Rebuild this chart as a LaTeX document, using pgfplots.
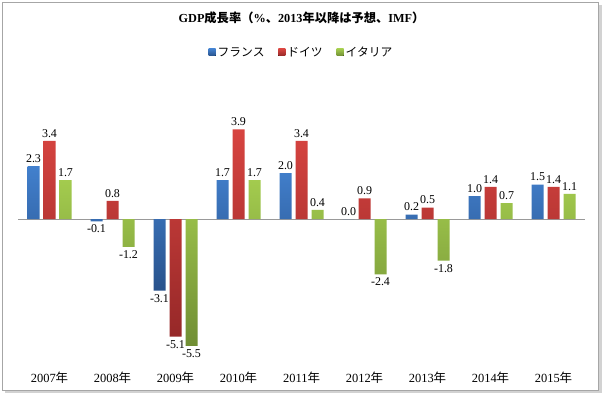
\documentclass[border=0pt]{standalone}
\usepackage{pgfplots}
\pgfplotsset{compat=1.18}
\usepackage{fontspec}
\setmainfont{Liberation Serif}
\newfontfamily\cjk{Noto Sans CJK JP}
\definecolor{bluetop}{RGB}{66,128,205}
\definecolor{bluebot}{RGB}{40,82,140}
\definecolor{redtop}{RGB}{215,68,64}
\definecolor{redbot}{RGB}{150,40,40}
\definecolor{greentop}{RGB}{163,203,78}
\definecolor{greenbot}{RGB}{112,142,52}
\pgfplotstableread{
x fr de it
0 2.3 3.4 1.7
1 -0.1 0.8 -1.2
2 -3.1 -5.1 -5.5
3 1.7 3.9 1.7
4 2.0 3.4 0.4
5 0.0 0.9 -2.4
6 0.2 0.5 -1.8
7 1.0 1.4 0.7
8 1.5 1.4 1.1
}\gdp
\begin{document}
\begin{tikzpicture}[x=1bp,y=1bp]
\path (0,0) rectangle (605,395);
\fill[gray!35] (5,2) rectangle (602,390);
\fill[white] (2,5) rectangle (598,393);
\draw[gray!70, line width=0.8pt] (2,5) rectangle (598,393);
\begin{axis}[
  at={(18bp,33bp)}, anchor=south west,
  scale only axis, width=567bp, height=258bp,
  xmin=-0.5, xmax=8.5, ymin=-6.2, ymax=5,
  ybar=4bp, bar width=12bp,
  axis line style={draw=none},
  ytick=\empty,
  xtick=data,
  xticklabels={2007{\cjk 年},2008{\cjk 年},2009{\cjk 年},2010{\cjk 年},2011{\cjk 年},2012{\cjk 年},2013{\cjk 年},2014{\cjk 年},2015{\cjk 年}},
  xtick style={draw=none},
  xticklabel style={font=\fontsize{12.5}{14}\selectfont, yshift=-2bp},
  extra y ticks={0}, extra y tick labels={},
  extra y tick style={grid=major, major grid style={gray!80, line width=0.8pt}, tick style={draw=none}},
  nodes near coords,
  nodes near coords style={font=\fontsize{12}{14}\selectfont, /pgf/number format/.cd, fixed, fixed zerofill, precision=1, assume math mode=true},
  title={\textbf{GDP}{\cjk\bfseries 成長率（}\textbf{\%}{\cjk\bfseries 、}\textbf{2013}{\cjk\bfseries 年以降は予想、}\textbf{IMF}{\cjk\bfseries ）}},
  title style={at={(0.5,1.31)}, anchor=center, font=\fontsize{12.3}{14}\selectfont},
  legend columns=3,
  legend style={at={(0.5,1.2)}, anchor=center, draw=none, font=\fontsize{11.8}{14}\selectfont\cjk,
    /tikz/every even column/.append style={column sep=12bp}},
  legend image code/.code={\fill[#1] (0bp,-3.5bp) rectangle (7bp,3.5bp);},
]
\addplot[draw=none, top color=bluetop, bottom color=bluebot] table[x=x,y=fr]{\gdp};
\addplot[draw=none, top color=redtop, bottom color=redbot] table[x=x,y=de]{\gdp};
\addplot[draw=none, top color=greentop, bottom color=greenbot] table[x=x,y=it]{\gdp};
\legend{フランス,ドイツ,イタリア}
\end{axis}
\end{tikzpicture}
\end{document}
